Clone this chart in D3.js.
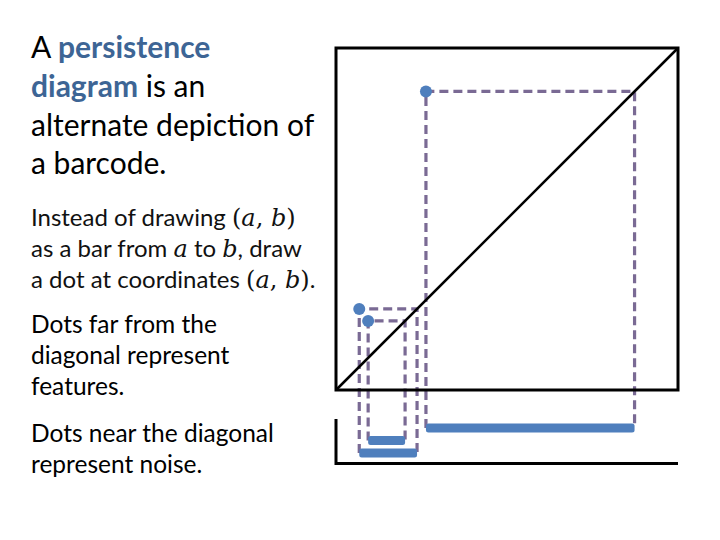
<!DOCTYPE html>
<html>
<head>
<meta charset="utf-8">
<script src="https://cdn.jsdelivr.net/npm/d3@7"></script>
<style>
  body { margin: 0; background: #fff; }
</style>
</head>
<body>
<div id="chart"></div>
<script>
// features in barcode row order (top bar first)
const births = [0.263, 0.094, 0.068];
const deaths = [0.873, 0.202, 0.237];
const rows = [0, 1, 2];

const width = 720, height = 540;

const x = d3.scaleLinear().domain([0, 1]).range([336, 678]);
const y = d3.scaleLinear().domain([0, 1]).range([390, 48]);
const row = d3.scalePoint().domain(rows).range([428, 453]);

const blue = '#4f7fbd', dash = '#7a6a94';

const svg = d3.select('#chart').append('svg')
  .attr('width', width)
  .attr('height', height)
  .style('font-family', 'Lato, "Open Sans", sans-serif');

const feats = rows.map(i => ({ a: births[i], b: deaths[i], r: i }));

// text on the left
const t1 = svg.append('g').style('font-size', '30px').attr('fill', '#000');
let l = t1.append('text').attr('x', 31).attr('y', 58);
l.append('tspan').text('A ');
l.append('tspan').attr('fill', '#3d6595').style('font-weight', 'bold').text('persistence');
l = t1.append('text').attr('x', 31).attr('y', 97);
l.append('tspan').attr('fill', '#3d6595').style('font-weight', 'bold').text('diagram');
l.append('tspan').text(' is an');
t1.append('text').attr('x', 31).attr('y', 136).text('alternate depiction of');
t1.append('text').attr('x', 31).attr('y', 174).text('a barcode.');

const t2 = svg.append('g').style('font-size', '24px').attr('fill', '#111');
const mathFont = '"DejaVu Serif", "Liberation Serif", serif';
function mathLine(yy, parts) {
  const tx = t2.append('text').attr('x', 31).attr('y', yy);
  parts.forEach(p => {
    const s = tx.append('tspan').text(p[0]);
    if (p[1]) s.style('font-family', mathFont).style('font-style', p[1] === 'i' ? 'italic' : 'normal');
  });
}
mathLine(226, [['Instead of drawing '], ['(', 'n'], ['a', 'i'], [',', 'n'], [' b', 'i'], [')', 'n']]);
mathLine(257, [['as a bar from '], ['a', 'i'], [' to '], ['b', 'i'], [', draw']]);
mathLine(288, [['a dot at coordinates '], ['(', 'n'], ['a', 'i'], [',', 'n'], [' b', 'i'], [')', 'n'], ['.']]);

const t3 = svg.append('g').style('font-size', '24.5px').attr('fill', '#000');
[['Dots far from the', 333], ['diagonal represent', 364], ['features.', 395],
 ['Dots near the diagonal', 442], ['represent noise.', 473]].forEach(d => {
  t3.append('text').attr('x', 31).attr('y', d[1]).text(d[0]);
});

// dashed guides: bar start -> dot -> diagonal -> bar end
svg.append('g').selectAll('path')
  .data(feats)
  .join('path')
  .attr('d', d => `M${x(d.a)},${row(d.r)}V${y(d.b)}H${x(d.b)}V${row(d.r)}`)
  .attr('fill', 'none')
  .attr('stroke', dash)
  .attr('stroke-width', 3.2)
  .attr('stroke-dasharray', '9,5');

// persistence diagram frame and diagonal
svg.append('rect')
  .attr('x', x(0)).attr('y', y(1))
  .attr('width', x(1) - x(0)).attr('height', y(0) - y(1))
  .attr('fill', 'none').attr('stroke', '#000').attr('stroke-width', 3);
svg.append('line')
  .attr('x1', x(0)).attr('y1', y(0)).attr('x2', x(1)).attr('y2', y(1))
  .attr('stroke', '#000').attr('stroke-width', 2.5);

// barcode axis
svg.append('path')
  .attr('d', `M${x(0)},419V463.5H${x(1)}`)
  .attr('fill', 'none').attr('stroke', '#000').attr('stroke-width', 3);

// bars
svg.append('g').selectAll('rect')
  .data(feats)
  .join('rect')
  .attr('x', d => x(d.a))
  .attr('y', d => row(d.r) - 4.5)
  .attr('width', d => x(d.b) - x(d.a))
  .attr('height', 9)
  .attr('rx', 2.5)
  .attr('fill', blue);

// dots
svg.append('g').selectAll('circle')
  .data(feats)
  .join('circle')
  .attr('cx', d => x(d.a))
  .attr('cy', d => y(d.b))
  .attr('r', 6)
  .attr('fill', blue);
</script>
</body>
</html>
